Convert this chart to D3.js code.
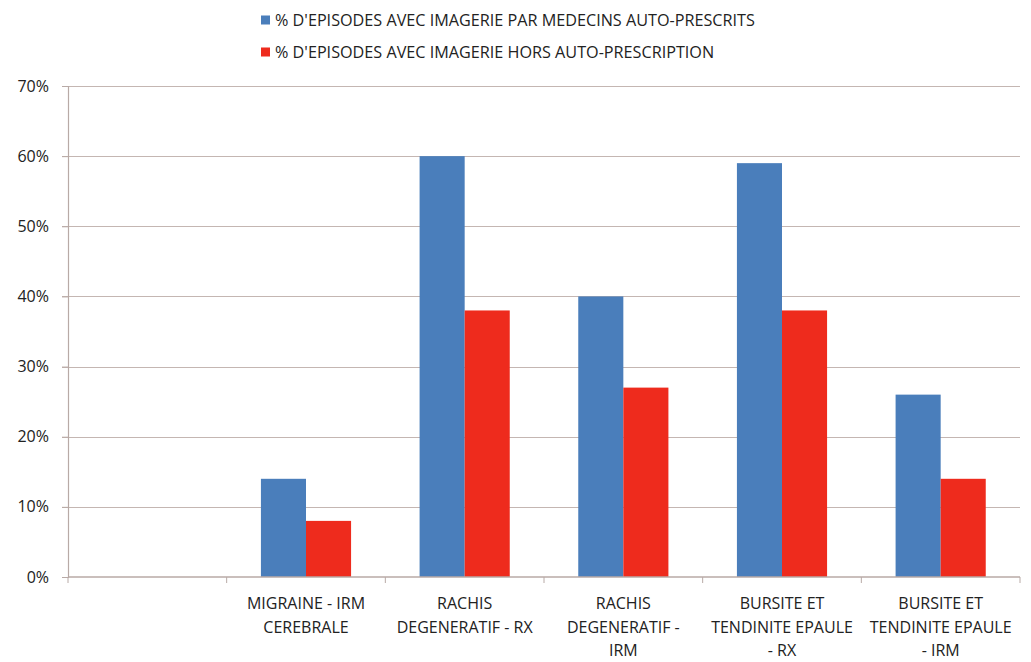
<!DOCTYPE html>
<html>
<head>
<meta charset="utf-8">
<script src="https://cdn.jsdelivr.net/npm/d3@7"></script>
<style>
  body { margin: 0; background: #fff; }
  text { font-family: "Open Sans", "Noto Sans", sans-serif; fill: #222; }
</style>
</head>
<body>
<div id="chart"></div>
<script>
// Categories (first slot is empty in the original)
const categories = ["", "MIGRAINE - IRM CEREBRALE", "RACHIS DEGENERATIF - RX", "RACHIS DEGENERATIF - IRM",
    "BURSITE ET TENDINITE EPAULE - RX", "BURSITE ET TENDINITE EPAULE - IRM"];
const categoryLines = [
    [],
    ["MIGRAINE - IRM", "CEREBRALE"],
    ["RACHIS", "DEGENERATIF - RX"],
    ["RACHIS", "DEGENERATIF -", "IRM"],
    ["BURSITE ET", "TENDINITE EPAULE", "- RX"],
    ["BURSITE ET", "TENDINITE EPAULE", "- IRM"]
];
const seriesNames = ["% D'EPISODES AVEC IMAGERIE PAR MEDECINS AUTO-PRESCRITS",
    "% D'EPISODES AVEC IMAGERIE HORS AUTO-PRESCRIPTION"];
const autoPrescrits = [null, 0.14, 0.60, 0.40, 0.59, 0.26];
const horsAuto = [null, 0.08, 0.38, 0.27, 0.38, 0.14];
const yTicks = [0, 0.1, 0.2, 0.3, 0.4, 0.5, 0.6, 0.7];

const colors = ["#4a7ebb", "#ee2b1d"];
const width = 1031, height = 662;
const margin = { top: 86, right: 11, bottom: 85, left: 68 };

const svg = d3.select("#chart").append("svg")
    .attr("width", width).attr("height", height);

const x0 = d3.scaleBand()
    .domain(categories)
    .range([margin.left, width - margin.right])
    .paddingInner(0).paddingOuter(0);

const x1 = d3.scaleBand()
    .domain([0, 1])
    .range([0, x0.bandwidth()])
    .paddingInner(0).paddingOuter(0.76);

const y = d3.scaleLinear()
    .domain([0, 0.7])
    .range([height - margin.bottom, margin.top]);

// Gridlines
svg.append("g")
    .selectAll("line")
    .data(yTicks.slice(1))
    .join("line")
    .attr("x1", margin.left - 6).attr("x2", width - margin.right)
    .attr("y1", d => Math.round(y(d)) + 0.5).attr("y2", d => Math.round(y(d)) + 0.5)
    .attr("stroke", "#c4b6b2").attr("stroke-width", 1.2);

// Y axis
const yAxis = svg.append("g")
    .attr("transform", `translate(${margin.left},0)`)
    .call(d3.axisLeft(y).tickValues(yTicks).tickFormat(d3.format(".0%")).tickSize(6).tickPadding(13));
yAxis.select(".domain").attr("stroke", "#b8aaa6").attr("stroke-width", 1.2);
yAxis.selectAll(".tick line").attr("stroke", "#b8aaa6");
yAxis.selectAll("text").style("font-size", "16px").attr("fill", "#222").style("font-family", "\"Open Sans\", sans-serif");

// Bars
const rows = categories.map((c, i) => ({ cat: c, vals: [autoPrescrits[i], horsAuto[i]] }))
    .filter(d => d.vals[0] !== null);

svg.append("g")
    .selectAll("g")
    .data(rows)
    .join("g")
    .attr("transform", d => `translate(${x0(d.cat)},0)`)
    .selectAll("rect")
    .data(d => d.vals.map((v, k) => ({ k, v })))
    .join("rect")
    .attr("x", d => x1(d.k))
    .attr("width", x1.bandwidth())
    .attr("y", d => y(d.v))
    .attr("height", d => y(0) - y(d.v))
    .attr("fill", d => colors[d.k]);

// X axis
const xAxis = svg.append("g")
    .attr("transform", `translate(0,${y(0)})`);
xAxis.append("line")
    .attr("x1", margin.left).attr("x2", width - margin.right)
    .attr("stroke", "#b8aaa6").attr("stroke-width", 1.5);
const bounds = categories.map(c => x0(c)).concat([x0(categories[categories.length - 1]) + x0.bandwidth()]);
xAxis.selectAll(".xtick")
    .data(bounds)
    .join("line")
    .attr("class", "xtick")
    .attr("x1", d => d).attr("x2", d => d)
    .attr("y1", 0).attr("y2", 6)
    .attr("stroke", "#b8aaa6");

const labels = xAxis.selectAll(".xlabel")
    .data(categories.map((c, i) => ({ c, lines: categoryLines[i] })))
    .join("text")
    .attr("class", "xlabel")
    .attr("text-anchor", "middle")
    .attr("transform", d => `translate(${x0(d.c) + x0.bandwidth() / 2},0)`)
    .style("font-size", "16px");
labels.selectAll("tspan")
    .data(d => d.lines)
    .join("tspan")
    .attr("x", 0)
    .attr("y", (d, i) => 32 + i * 23.5)
    .text(d => d);

// Legend
const legend = svg.append("g");
seriesNames.forEach((name, i) => {
    const yy = 20 + i * 32;
    legend.append("rect")
        .attr("x", 261).attr("y", yy - 4.5).attr("width", 9).attr("height", 9)
        .attr("fill", colors[i]);
    legend.append("text")
        .attr("x", 275).attr("y", yy)
        .attr("dominant-baseline", "central")
        .style("font-size", "16.2px")
        .text(name);
});
</script>
</body>
</html>
